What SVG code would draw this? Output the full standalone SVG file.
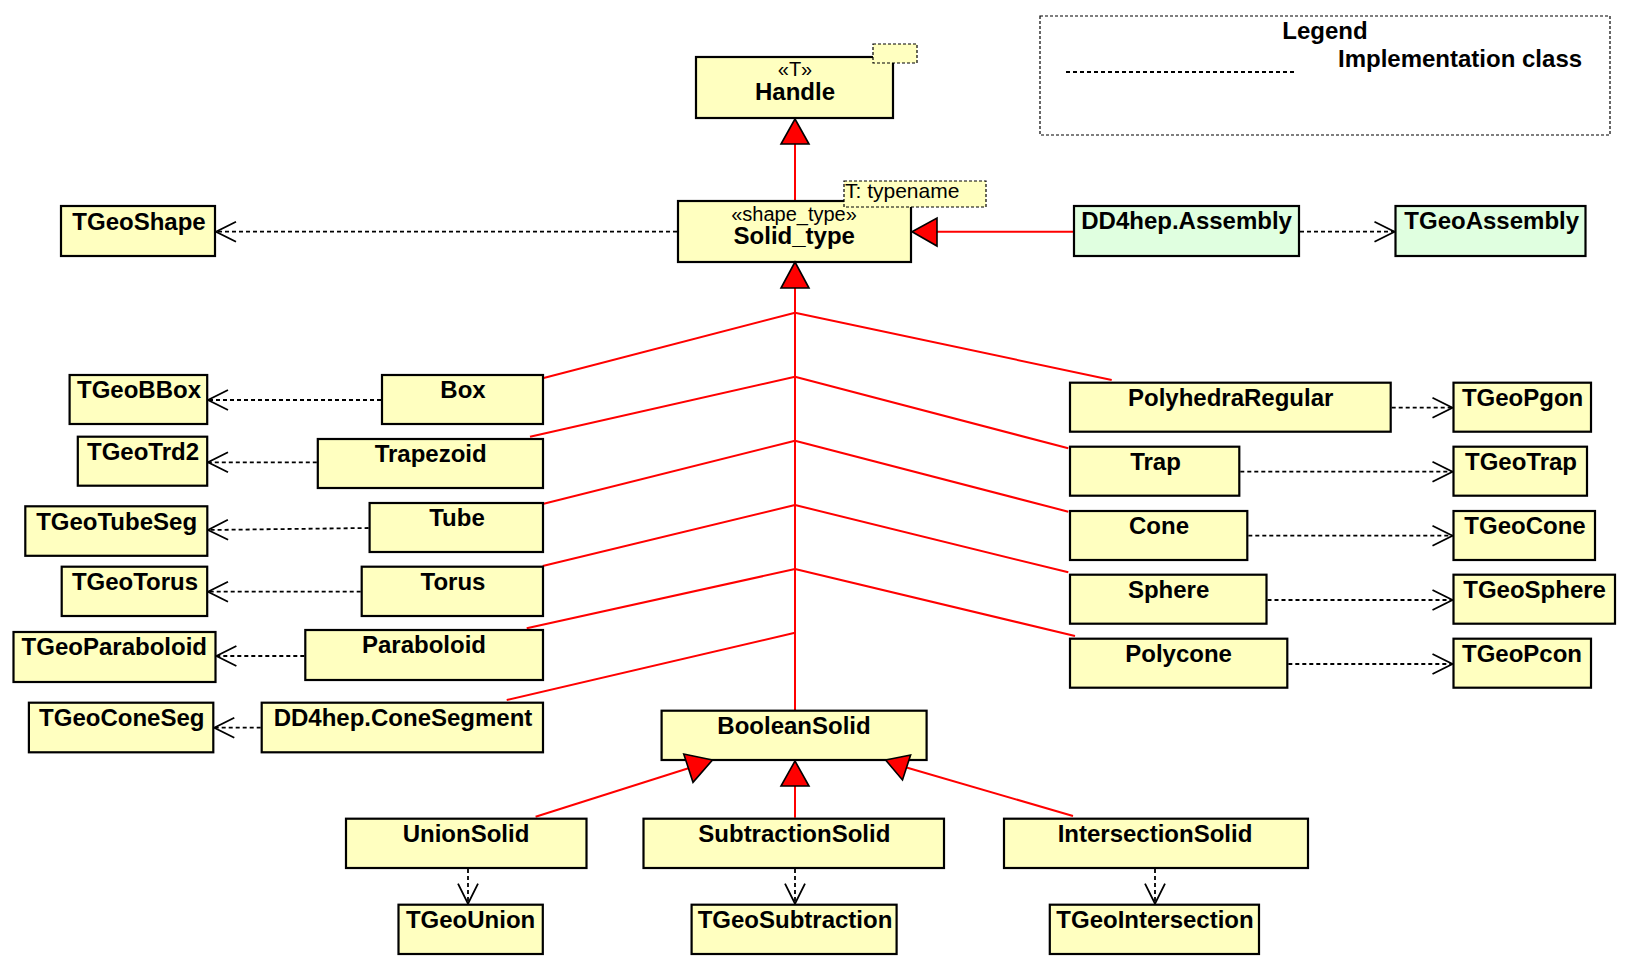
<svg xmlns="http://www.w3.org/2000/svg" width="1628" height="976" viewBox="0 0 1628 976">
<style>
.box{fill:#ffffc0;stroke:#000;stroke-width:2.2}
.grn{fill:#e0ffe0;stroke:#000;stroke-width:2.2}
.lbl{font-family:"Liberation Sans",Arial,sans-serif;font-weight:bold;font-size:24px;fill:#000;text-anchor:middle}
.st{font-family:"Liberation Sans",Arial,sans-serif;font-size:20px;fill:#000;text-anchor:middle}
.gen{stroke:#ff0000;stroke-width:2;fill:none}
.tri{fill:#ff0000;stroke:#000;stroke-width:1.6;stroke-linejoin:miter}
.dep{stroke:#000;stroke-width:1.8;stroke-dasharray:4,3;fill:none;marker-end:url(#open)}
.note{fill:#ffffc0;stroke:#000;stroke-width:1.2;stroke-dasharray:3,2}
</style>
<defs>
<marker id="open" markerUnits="userSpaceOnUse" markerWidth="26" markerHeight="26" viewBox="0 0 26 26" refX="22" refY="12" orient="auto">
<path d="M2,2 L22,12 L2,22" fill="none" stroke="#000" stroke-width="1.8"/>
</marker>
</defs>
<rect width="1628" height="976" fill="#fff"/>

<g id="legend">
<rect x="1040" y="16" width="570" height="119" fill="none" stroke="#000" stroke-width="1.2" stroke-dasharray="3,2"/>
<text class="lbl" x="1325" y="39">Legend</text>
<text class="lbl" x="1338" y="67" style="text-anchor:start">Implementation class</text>
<line x1="1066" y1="72" x2="1296" y2="72" stroke="#000" stroke-width="1.8" stroke-dasharray="4,3"/>
</g>

<g id="connectors">
<line class="gen" x1="795" y1="144" x2="795" y2="200"/>
<line class="gen" x1="795" y1="288" x2="795" y2="710"/>
<line class="gen" x1="795" y1="312.7" x2="542.7" y2="378.3"/>
<line class="gen" x1="795" y1="312.7" x2="1111.7" y2="380"/>
<line class="gen" x1="795" y1="376.7" x2="530" y2="436.7"/>
<line class="gen" x1="795" y1="376.7" x2="1068.3" y2="448.3"/>
<line class="gen" x1="795" y1="440.7" x2="542.7" y2="504"/>
<line class="gen" x1="795" y1="440.7" x2="1068.3" y2="511.7"/>
<line class="gen" x1="795" y1="505" x2="542.7" y2="566"/>
<line class="gen" x1="795" y1="505" x2="1068.3" y2="572.3"/>
<line class="gen" x1="795" y1="569" x2="526.7" y2="628.3"/>
<line class="gen" x1="795" y1="569" x2="1075" y2="636"/>
<line class="gen" x1="795" y1="632.7" x2="506.7" y2="700"/>
<line class="gen" x1="937" y1="231.7" x2="1073" y2="231.7"/>
<line class="gen" x1="535.6" y1="816.7" x2="688.4" y2="768.2"/>
<line class="gen" x1="1073" y1="816" x2="906.5" y2="767.5"/>
<line class="gen" x1="795" y1="786" x2="795" y2="817.7"/>

<line class="dep" x1="677" y1="231.7" x2="216" y2="231.7"/>
<line class="dep" x1="1300" y1="231.7" x2="1394.5" y2="231.7"/>
<line class="dep" x1="381" y1="400" x2="208" y2="400"/>
<line class="dep" x1="316.8" y1="462.3" x2="208" y2="462.3"/>
<line class="dep" x1="368.6" y1="528" x2="208" y2="530"/>
<line class="dep" x1="360.7" y1="591.7" x2="208" y2="591.7"/>
<line class="dep" x1="304.3" y1="656" x2="216.4" y2="656"/>
<line class="dep" x1="260.7" y1="727.7" x2="214.3" y2="727.7"/>
<line class="dep" x1="1391.7" y1="407.7" x2="1452.5" y2="407.7"/>
<line class="dep" x1="1240.3" y1="471.7" x2="1452.5" y2="471.7"/>
<line class="dep" x1="1248.3" y1="535.7" x2="1452.5" y2="535.7"/>
<line class="dep" x1="1267.5" y1="600" x2="1452.5" y2="600"/>
<line class="dep" x1="1288.3" y1="664" x2="1452.5" y2="664"/>
<line class="dep" x1="468" y1="869" x2="468" y2="903.7"/>
<line class="dep" x1="795" y1="869" x2="795" y2="903.7"/>
<line class="dep" x1="1155" y1="869" x2="1155" y2="903.7"/>
</g>

<g id="Handle">
<rect class="box" x="696" y="57" width="197" height="61"/>
<text class="st" x="795" y="76">«T»</text>
<text class="lbl" x="795" y="100">Handle</text>
<rect class="note" x="873" y="44" width="44" height="19"/>
</g>

<g id="Solid_type">
<rect class="box" x="678" y="201" width="233" height="61"/>
<text class="st" x="794" y="221">«shape_type»</text>
<text class="lbl" x="794.3" y="244">Solid_type</text>
<rect class="note" x="844" y="181" width="142" height="26"/>
<text class="st" x="845" y="198" style="text-anchor:start;font-size:21px">T: typename</text>
</g>

<g id="TGeoShape"><rect class="box" x="61" y="206" width="154" height="50"/><text class="lbl" x="139" y="230">TGeoShape</text></g>
<g id="DD4hep.Assembly"><rect class="grn" x="1074" y="206" width="225" height="50"/><text class="lbl" x="1186.6" y="229.3">DD4hep.Assembly</text></g>
<g id="TGeoAssembly"><rect class="grn" x="1395.5" y="206" width="190" height="50"/><text class="lbl" x="1491.7" y="229.3">TGeoAssembly</text></g>

<g id="TGeoBBox"><rect class="box" x="69.6" y="375" width="137.6" height="49"/><text class="lbl" x="139" y="398">TGeoBBox</text></g>
<g id="Box"><rect class="box" x="382" y="375" width="161" height="49"/><text class="lbl" x="463" y="398">Box</text></g>
<g id="TGeoTrd2"><rect class="box" x="77.8" y="436.7" width="129.4" height="49"/><text class="lbl" x="143" y="460">TGeoTrd2</text></g>
<g id="Trapezoid"><rect class="box" x="317.8" y="439" width="225.2" height="49"/><text class="lbl" x="430.7" y="462">Trapezoid</text></g>
<g id="TGeoTubeSeg"><rect class="box" x="25.3" y="506.3" width="182" height="49.5"/><text class="lbl" x="116.6" y="529.5">TGeoTubeSeg</text></g>
<g id="Tube"><rect class="box" x="369.6" y="503" width="173.4" height="49"/><text class="lbl" x="457" y="526">Tube</text></g>
<g id="TGeoTorus"><rect class="box" x="61.7" y="566.7" width="145.5" height="49.3"/><text class="lbl" x="135" y="590">TGeoTorus</text></g>
<g id="Torus"><rect class="box" x="361.7" y="566.7" width="181.3" height="49.3"/><text class="lbl" x="453" y="590">Torus</text></g>
<g id="TGeoParaboloid"><rect class="box" x="13.5" y="632" width="202" height="50"/><text class="lbl" x="114.3" y="655">TGeoParaboloid</text></g>
<g id="Paraboloid"><rect class="box" x="305.3" y="630" width="237.7" height="50"/><text class="lbl" x="424" y="653">Paraboloid</text></g>
<g id="TGeoConeSeg"><rect class="box" x="28.9" y="702.7" width="184.4" height="49.6"/><text class="lbl" x="121.8" y="726">TGeoConeSeg</text></g>
<g id="DD4hep.ConeSegment"><rect class="box" x="261.7" y="702.7" width="281.3" height="49.6"/><text class="lbl" x="403" y="726">DD4hep.ConeSegment</text></g>

<g id="PolyhedraRegular"><rect class="box" x="1070" y="382.7" width="320.7" height="49"/><text class="lbl" x="1230.7" y="405.7">PolyhedraRegular</text></g>
<g id="TGeoPgon"><rect class="box" x="1453.5" y="382.7" width="137.5" height="49"/><text class="lbl" x="1522.6" y="405.7">TGeoPgon</text></g>
<g id="Trap"><rect class="box" x="1070" y="446.7" width="169.3" height="49"/><text class="lbl" x="1155.5" y="469.7">Trap</text></g>
<g id="TGeoTrap"><rect class="box" x="1453.5" y="446.7" width="133.5" height="49"/><text class="lbl" x="1521" y="469.7">TGeoTrap</text></g>
<g id="Cone"><rect class="box" x="1070" y="511" width="177.3" height="49"/><text class="lbl" x="1159" y="534">Cone</text></g>
<g id="TGeoCone"><rect class="box" x="1453.5" y="511" width="141.5" height="49"/><text class="lbl" x="1525" y="534">TGeoCone</text></g>
<g id="Sphere"><rect class="box" x="1070" y="574.7" width="196.5" height="49"/><text class="lbl" x="1168.6" y="597.7">Sphere</text></g>
<g id="TGeoSphere"><rect class="box" x="1453.5" y="574.7" width="161.5" height="49"/><text class="lbl" x="1534.6" y="597.7">TGeoSphere</text></g>
<g id="Polycone"><rect class="box" x="1070" y="638.7" width="217.3" height="49"/><text class="lbl" x="1178.6" y="661.7">Polycone</text></g>
<g id="TGeoPcon"><rect class="box" x="1453.5" y="638.7" width="137.5" height="49"/><text class="lbl" x="1522" y="661.7">TGeoPcon</text></g>

<g id="BooleanSolid"><rect class="box" x="661.6" y="710.7" width="265" height="49.3"/><text class="lbl" x="794" y="733.7">BooleanSolid</text></g>
<g id="UnionSolid"><rect class="box" x="346" y="818.7" width="240.5" height="49.3"/><text class="lbl" x="466" y="841.7">UnionSolid</text></g>
<g id="SubtractionSolid"><rect class="box" x="643.5" y="818.7" width="300.5" height="49.3"/><text class="lbl" x="794.3" y="841.7">SubtractionSolid</text></g>
<g id="IntersectionSolid"><rect class="box" x="1004" y="818.7" width="304" height="49.3"/><text class="lbl" x="1155" y="841.7">IntersectionSolid</text></g>
<g id="TGeoUnion"><rect class="box" x="398.5" y="904.7" width="144.3" height="49.3"/><text class="lbl" x="470.6" y="927.7">TGeoUnion</text></g>
<g id="TGeoSubtraction"><rect class="box" x="691.6" y="904.7" width="205" height="49.3"/><text class="lbl" x="795" y="927.7">TGeoSubtraction</text></g>
<g id="TGeoIntersection"><rect class="box" x="1049.8" y="904.7" width="209.2" height="49.3"/><text class="lbl" x="1155" y="927.7">TGeoIntersection</text></g>

<g id="generalization-heads">
<polygon class="tri" points="795,119 781,144 809,144"/>
<polygon class="tri" points="795,262 781,288 809,288"/>
<polygon class="tri" points="912,231.7 937,218 937,246"/>
<polygon class="tri" points="795,761 781,786 809,786"/>
<polygon class="tri" points="712.5,760 683.75,754 693,782.3"/>
<polygon class="tri" points="885.6,760 910.6,755 902.5,780"/>
</g>
</svg>
